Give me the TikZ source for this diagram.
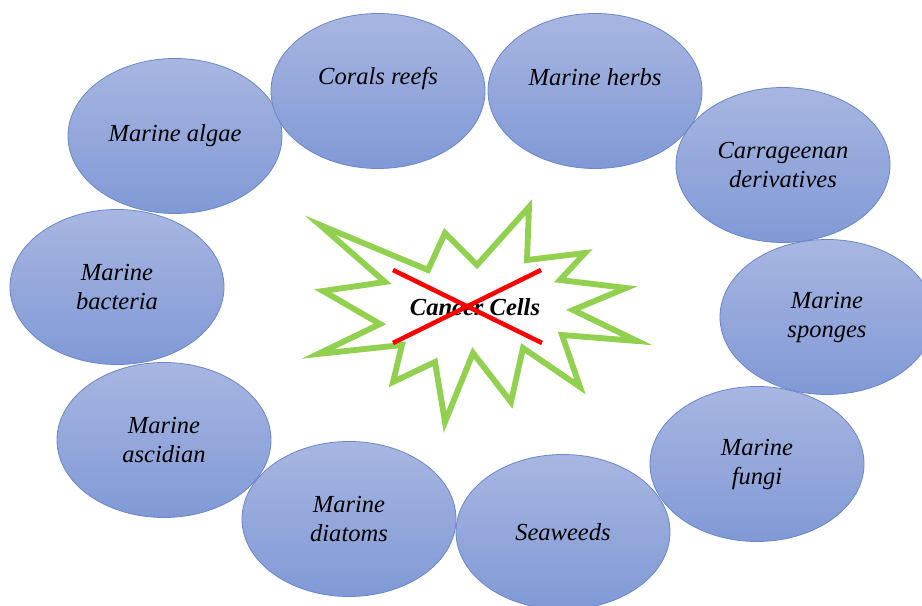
\documentclass[tikz,border=0pt]{standalone}
\usepackage{fontspec}
\setmainfont{Liberation Serif}
\usetikzlibrary{shapes.geometric}
\definecolor{bubtop}{RGB}{168,182,225}
\definecolor{bubbot}{RGB}{128,153,214}
\definecolor{bubline}{RGB}{105,134,204}
\definecolor{stargreen}{RGB}{146,208,80}
\definecolor{crossred}{RGB}{255,0,0}
\begin{document}
\begin{tikzpicture}[x=0.75pt,y=-0.75pt,
  bub/.style={ellipse, minimum width=160.5pt, minimum height=116.25pt, inner sep=0pt,
    top color=bubtop, bottom color=bubbot, draw=bubline, line width=0.6pt},
  txt/.style={align=center, font=\fontsize{18.4}{21.75}\selectfont\itshape, inner sep=0pt},
  startxt/.style={font=\fontsize{18.4}{21.75}\selectfont\bfseries\itshape, inner sep=0pt},
  starline/.style={draw=stargreen, line width=4.4pt, line join=miter, fill=white},
  crossline/.style={draw=crossred, line width=3.4pt}]
\useasboundingbox (0,0) rectangle (922,606);
\clip (0,0) rectangle (922,606);

% bubbles
\node[bub] (algae) at (175,136) {};
\node[bub] (corals) at (378,91) {};
\node[bub] (herbs) at (595,91) {};
\node[bub] (carra) at (783,165) {};
\node[bub] (sponges) at (827,317) {};
\node[bub] (bacteria) at (117,287) {};
\node[bub] (ascidian) at (164,440) {};
\node[bub] (fungi) at (757,464) {};
\node[bub] (diatoms) at (349,519) {};
\node[bub] (seaweeds) at (563,532) {};

\node[txt] (talgae) at (algae.center) {Marine algae};
\node[txt] (tcorals) at ([yshift=9.5pt]corals.center) {Corals reefs};
\node[txt] (therbs) at ([yshift=10.5pt]herbs.center) {Marine herbs};
\node[txt] (tcarra) at (carra.center) {Carrageenan\\derivatives};
\node[txt] (tsponges) at (sponges.center) {Marine\\sponges};
\node[txt] (tbacteria) at (bacteria.center) {Marine\\bacteria};
\node[txt] (tascidian) at (ascidian.center) {Marine\\ascidian};
\node[txt] (tfungi) at (fungi.center) {Marine\\fungi};
\node[txt] (tdiatoms) at (diatoms.center) {Marine\\diatoms};
\node[txt] (tseaweeds) at (seaweeds.center) {Seaweeds};

% star
\draw[starline] (320,225) -- (428,270) -- (445,233) -- (477,265) -- (529,207) -- (527,260)
  -- (585,253) -- (560,280) -- (626,288) -- (573,310) -- (637,341) -- (562,335)
  -- (580,387) -- (523,348) -- (511,402) -- (473,353) -- (445,422) -- (435,362)
  -- (393,382) -- (402,345) -- (318,354) -- (380,324) -- (323,291) -- (385,282) -- cycle;

\node[startxt] (cancer) at (475,307) {Cancer Cells};

\coordinate (xa) at (393,270);
\coordinate (xb) at (542,343);
\coordinate (xc) at (393,343);
\coordinate (xd) at (541,270);
\draw[crossline] (xa) -- (xb);
\draw[crossline] (xc) -- (xd);
\end{tikzpicture}
\end{document}
